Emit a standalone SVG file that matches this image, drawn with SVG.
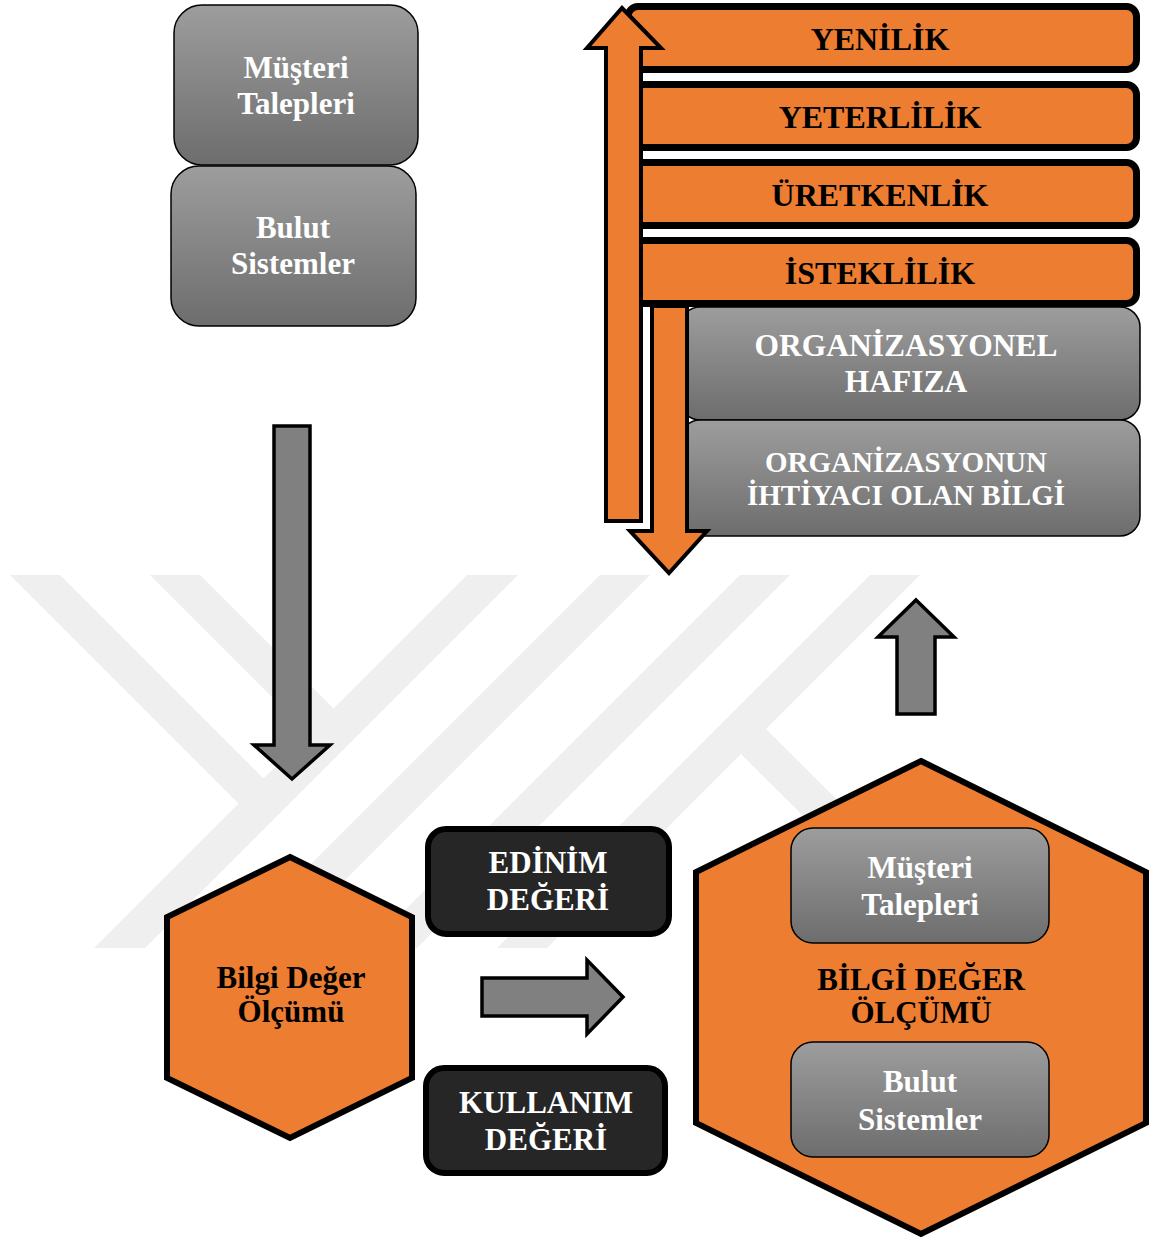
<svg xmlns="http://www.w3.org/2000/svg" width="1151" height="1238" viewBox="0 0 1151 1238">
<defs>
<linearGradient id="gg" x1="0" y1="0" x2="0" y2="1">
<stop offset="0" stop-color="#9d9d9d"/>
<stop offset="1" stop-color="#6d6d6d"/>
</linearGradient>
<style>
.wm{fill:#efefef;stroke:none}
.gbox{fill:url(#gg);stroke:#000;stroke-width:1.5}
.bar{fill:#ED7D31;stroke:#000;stroke-width:7}
.oarr{fill:#ED7D31;stroke:#000;stroke-width:4;stroke-linejoin:miter}
.garr{fill:#808080;stroke:#000;stroke-width:3.5;stroke-linejoin:miter}
.hex{fill:#ED7D31;stroke:#000;stroke-width:6;stroke-linejoin:miter}
.dbox{fill:#262626;stroke:#000;stroke-width:6}
text{font-family:"Liberation Serif","Times New Roman",serif;font-weight:bold;text-anchor:middle}
.w{fill:#fff;font-size:31px}
.b{fill:#000;font-size:31px}
.bb{fill:#000;font-size:32px}
.wo{fill:#fff;font-size:31.5px}
.wo2{fill:#fff;font-size:29px}
</style>
</defs>
<rect width="1151" height="1238" fill="#fff"/>
<g id="watermark">
<polygon class="wm" points="10,575 60,575 265,780 240,805"/>
<polygon class="wm" points="150,575 200,575 335,710 310,735"/>
<polygon class="wm" points="467,575 518,575 145,948 94,948"/>
<polygon class="wm" points="600,575 650,575 277,948 227,948"/>
<polygon class="wm" points="740,575 790,575 417,948 367,948"/>
<polygon class="wm" points="870,575 920,575 547,948 497,948"/>
<polygon class="wm" points="741,754 766,729 986,948 936,948"/>
</g>
<g id="connectors">
<polygon id="arrow-down-left" class="garr" points="274,426 310,426 310,745 330,745 292,779 254,745 274,745"/>
<polygon id="arrow-right" class="garr" points="482,978 587,978 587,960 623,997 587,1034 587,1016 482,1016"/>
<polygon id="arrow-up-right" class="garr" points="916,600 954,637 935,637 935,714 897,714 897,637 878,637"/>
</g>
<g id="node-musteri-top">
<rect class="gbox" x="174" y="5" width="244" height="160" rx="28"/>
<text class="w" x="296" y="78">Müşteri</text>
<text class="w" x="296" y="114">Talepleri</text>
</g>
<g id="node-bulut-top">
<rect class="gbox" x="171" y="166" width="245" height="160" rx="28"/>
<text class="w" x="293" y="238">Bulut</text>
<text class="w" x="293" y="274">Sistemler</text>
</g>
<g id="node-org-hafiza">
<rect class="gbox" x="680" y="307" width="460" height="113" rx="20"/>
<text class="wo" x="906" y="356">ORGANİZASYONEL</text>
<text class="wo" x="906" y="392">HAFIZA</text>
</g>
<g id="node-org-bilgi">
<rect class="gbox" x="680" y="420" width="460" height="116" rx="20"/>
<text class="wo2" x="906" y="472">ORGANİZASYONUN</text>
<text class="wo2" x="906" y="505">İHTİYACI OLAN BİLGİ</text>
</g>
<g id="arrow-down-orange">
<polygon class="oarr" points="652,306 687,306 687,531 707,531 669,573 630,531 652,531"/>
</g>
<g id="node-yenilik">
<rect class="bar" x="628" y="6.5" width="508.5" height="63" rx="10"/>
<text class="bb" x="880" y="50">YENİLİK</text>
</g>
<g id="node-yeterlilik">
<rect class="bar" x="628" y="84.5" width="508.5" height="63" rx="10"/>
<text class="bb" x="880" y="128">YETERLİLİK</text>
</g>
<g id="node-uretkenlik">
<rect class="bar" x="628" y="162.5" width="508.5" height="63" rx="10"/>
<text class="bb" x="880" y="206">ÜRETKENLİK</text>
</g>
<g id="node-isteklilik">
<rect class="bar" x="628" y="240.5" width="508.5" height="63" rx="10"/>
<text class="bb" x="880" y="284">İSTEKLİLİK</text>
</g>
<g id="arrow-up-orange">
<polygon class="oarr" points="622,8 661,48 641,48 641,521 606,521 606,48 587,48"/>
</g>
<g id="node-bilgi-hex">
<polygon class="hex" points="290,857 412,917 412,1078 290,1138 167,1078 167,917"/>
<text class="b" x="291" y="988">Bilgi Değer</text>
<text class="b" x="291" y="1022">Ölçümü</text>
</g>
<g id="node-edinim">
<rect class="dbox" x="428" y="829" width="241" height="105" rx="18"/>
<text class="w" x="548" y="873">EDİNİM</text>
<text class="w" x="548" y="910">DEĞERİ</text>
</g>
<g id="node-kullanim">
<rect class="dbox" x="426" y="1068" width="239" height="105" rx="18"/>
<text class="w" x="546" y="1113">KULLANIM</text>
<text class="w" x="546" y="1150">DEĞERİ</text>
</g>
<g id="node-bilgi-hex-big">
<polygon class="hex" points="921,761 1146,872 1146,1123 921,1234 696,1123 696,872"/>
<text class="b" x="921" y="990">BİLGİ DEĞER</text>
<text class="b" x="921" y="1023">ÖLÇÜMÜ</text>
</g>
<g id="node-musteri-inner">
<rect class="gbox" x="791" y="828" width="258" height="115" rx="22"/>
<text class="w" x="920" y="878">Müşteri</text>
<text class="w" x="920" y="915">Talepleri</text>
</g>
<g id="node-bulut-inner">
<rect class="gbox" x="791" y="1042" width="258" height="115" rx="22"/>
<text class="w" x="920" y="1092">Bulut</text>
<text class="w" x="920" y="1130">Sistemler</text>
</g>
</svg>
